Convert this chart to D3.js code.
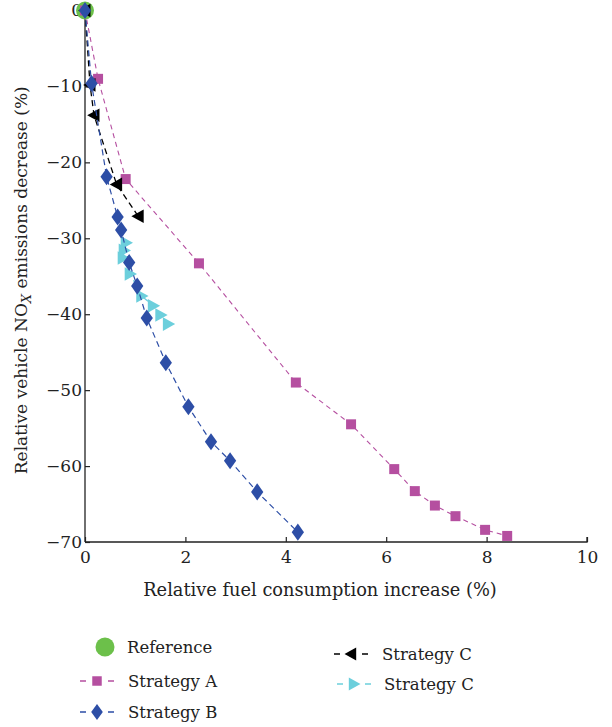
<!DOCTYPE html>
<html>
<head>
<meta charset="utf-8">
<script src="https://cdn.jsdelivr.net/npm/d3@7"></script>
<style>
  body { margin: 0; background: #fff; }
  svg text { font-family: "DejaVu Serif"; fill: #222; }
</style>
</head>
<body>
<div id="chart"></div>
<script>
// data: [fuel increase %, NOx change %]
const referencePoint = [[0, 0]];
const strategyA = [[0, 0], [0.26, -9.0], [0.81, -22.2], [2.27, -33.3], [4.20, -49.0], [5.30, -54.5],
  [6.16, -60.4], [6.57, -63.3], [6.97, -65.2], [7.38, -66.6], [7.97, -68.4], [8.41, -69.2]];
const strategyB = [[0, 0], [0.13, -9.6], [0.43, -21.9], [0.65, -27.2], [0.72, -28.9], [0.88, -33.2],
  [1.04, -36.3], [1.23, -40.5], [1.61, -46.4], [2.06, -52.2], [2.51, -56.8], [2.89, -59.3],
  [3.43, -63.4], [4.24, -68.7]];
const strategyC1 = [[0, 0], [0.10, -9.8], [0.18, -13.8], [0.63, -22.9], [1.06, -27.1]];
const strategyC2 = [[0.82, -30.6], [0.78, -31.6], [0.76, -32.6], [0.90, -34.7], [1.13, -37.6],
  [1.36, -38.9], [1.51, -40.1], [1.66, -41.3]];
const xTicks = [0, 2, 4, 6, 8, 10];
const yTicks = [0, -10, -20, -30, -40, -50, -60, -70];

const W = 612, H = 727;
const margin = { left: 85, top: 10.5, right: 25, bottom: 185 };
const FONT = "DejaVu Serif";

const svg = d3.select("#chart").append("svg")
  .attr("width", W).attr("height", H)
  .attr("font-family", FONT);

const x = d3.scaleLinear().domain([0, 10]).range([margin.left, W - margin.right]);
const y = d3.scaleLinear().domain([0, -70]).range([margin.top, H - margin.bottom]);

// axes, ticks point inward
const xAxis = svg.append("g")
  .attr("transform", `translate(0,${y(-70)})`)
  .call(d3.axisBottom(x).tickValues(xTicks).tickSize(-5).tickPadding(9).tickFormat(d3.format("d")));
const yAxis = svg.append("g")
  .attr("transform", `translate(${x(0)},0)`)
  .call(d3.axisLeft(y).tickValues(yTicks).tickSize(-5).tickPadding(3)
    .tickFormat(d => d === 0 ? "0" : "\u2212" + Math.abs(d)));
[xAxis, yAxis].forEach(g => {
  g.attr("font-family", FONT).attr("font-size", 17);
  g.select(".domain").attr("stroke", "#222").attr("stroke-width", 1.3);
  g.selectAll(".tick line").attr("stroke", "#222").attr("stroke-width", 1.2);
  g.selectAll("text").attr("fill", "#222");
});
xAxis.select(".domain").attr("d", `M${x(0)},0H${x(10)}V-5`);
yAxis.select(".domain").attr("d", `M0,${y(0)}V${y(-70)}`);

// axis titles
svg.append("text")
  .attr("x", 320).attr("y", 596)
  .attr("text-anchor", "middle").attr("font-size", 17.8)
  .text("Relative fuel consumption increase (%)");

const yt = svg.append("text")
  .attr("transform", `translate(27,${(y(0) + y(-70)) / 2 + 4}) rotate(-90)`)
  .attr("text-anchor", "middle").attr("font-size", 17);
yt.append("tspan").text("Relative vehicle NO");
yt.append("tspan").attr("dy", 4).attr("font-size", 13).attr("font-style", "italic").text("X");
yt.append("tspan").attr("dy", -4).text(" emissions decrease (%)");

const line = d3.line().x(d => x(d[0])).y(d => y(d[1]));

const symDiamond = {
  draw(ctx, size) {
    const h = Math.sqrt(size) * 0.72, w = h * 0.72;
    ctx.moveTo(0, -h); ctx.lineTo(w, 0); ctx.lineTo(0, h); ctx.lineTo(-w, 0); ctx.closePath();
  }
};
const triLeft = {
  draw(ctx, size) {
    const r = Math.sqrt(size) * 0.6;
    ctx.moveTo(-r, 0); ctx.lineTo(r * 0.8, -r); ctx.lineTo(r * 0.8, r); ctx.closePath();
  }
};
const triRight = {
  draw(ctx, size) {
    const r = Math.sqrt(size) * 0.6;
    ctx.moveTo(r, 0); ctx.lineTo(-r * 0.8, -r); ctx.lineTo(-r * 0.8, r); ctx.closePath();
  }
};

const series = [
  { data: strategyA, color: "#b54fa0", dash: "5,4", width: 1.1, sym: d3.symbolSquare, size: 100, name: "Strategy A" },
  { data: strategyC1, color: "#000", dash: "6,4", width: 1.3, sym: triLeft, size: 130, name: "Strategy C" },
  { data: strategyC2, color: "#6ccfdc", dash: "6,4", width: 1.3, sym: triRight, size: 130, name: "Strategy C" },
  { data: strategyB, color: "#2d4ea6", dash: "6,4", width: 1.2, sym: symDiamond, size: 140, name: "Strategy B" }
];

// reference marker underneath
svg.selectAll(".ref").data(referencePoint).enter().append("circle")
  .attr("cx", d => x(d[0])).attr("cy", d => y(d[1])).attr("r", 9)
  .attr("fill", "#6cc04a");

series.forEach(s => {
  svg.append("path").datum(s.data)
    .attr("d", line).attr("fill", "none")
    .attr("stroke", s.color).attr("stroke-width", s.width).attr("stroke-dasharray", s.dash);
  svg.selectAll(null).data(s.data).enter().append("path")
    .attr("transform", d => `translate(${x(d[0])},${y(d[1])})`)
    .attr("d", d3.symbol().type(s.sym).size(s.size))
    .attr("fill", s.color);
});

// legend
const legend = [
  { x: 80, y: 647, sym: "circle", color: "#6cc04a", name: "Reference", tx: 127 },
  { x: 80, y: 681, s: series[0], tx: 128 },
  { x: 80, y: 712, s: series[3], tx: 128 },
  { x: 334, y: 654, s: series[1], tx: 382 },
  { x: 337, y: 684, s: series[2], tx: 384 }
];
legend.forEach(l => {
  const g = svg.append("g");
  if (l.sym === "circle") {
    g.append("circle").attr("cx", 105).attr("cy", l.y).attr("r", 9.5).attr("fill", l.color);
  } else {
    g.append("line").attr("x1", l.x).attr("x2", l.x + 34).attr("y1", l.y).attr("y2", l.y)
      .attr("stroke", l.s.color).attr("stroke-width", 1.3).attr("stroke-dasharray", "6,8");
    g.append("path").attr("transform", `translate(${l.x + 17},${l.y})`)
      .attr("d", d3.symbol().type(l.s.sym).size(l.s.size * 0.9)).attr("fill", l.s.color);
  }
  g.append("text").attr("x", l.tx).attr("y", l.y + 6).attr("font-size", 16.5)
    .text(l.name || l.s.name);
});
</script>
</body>
</html>
